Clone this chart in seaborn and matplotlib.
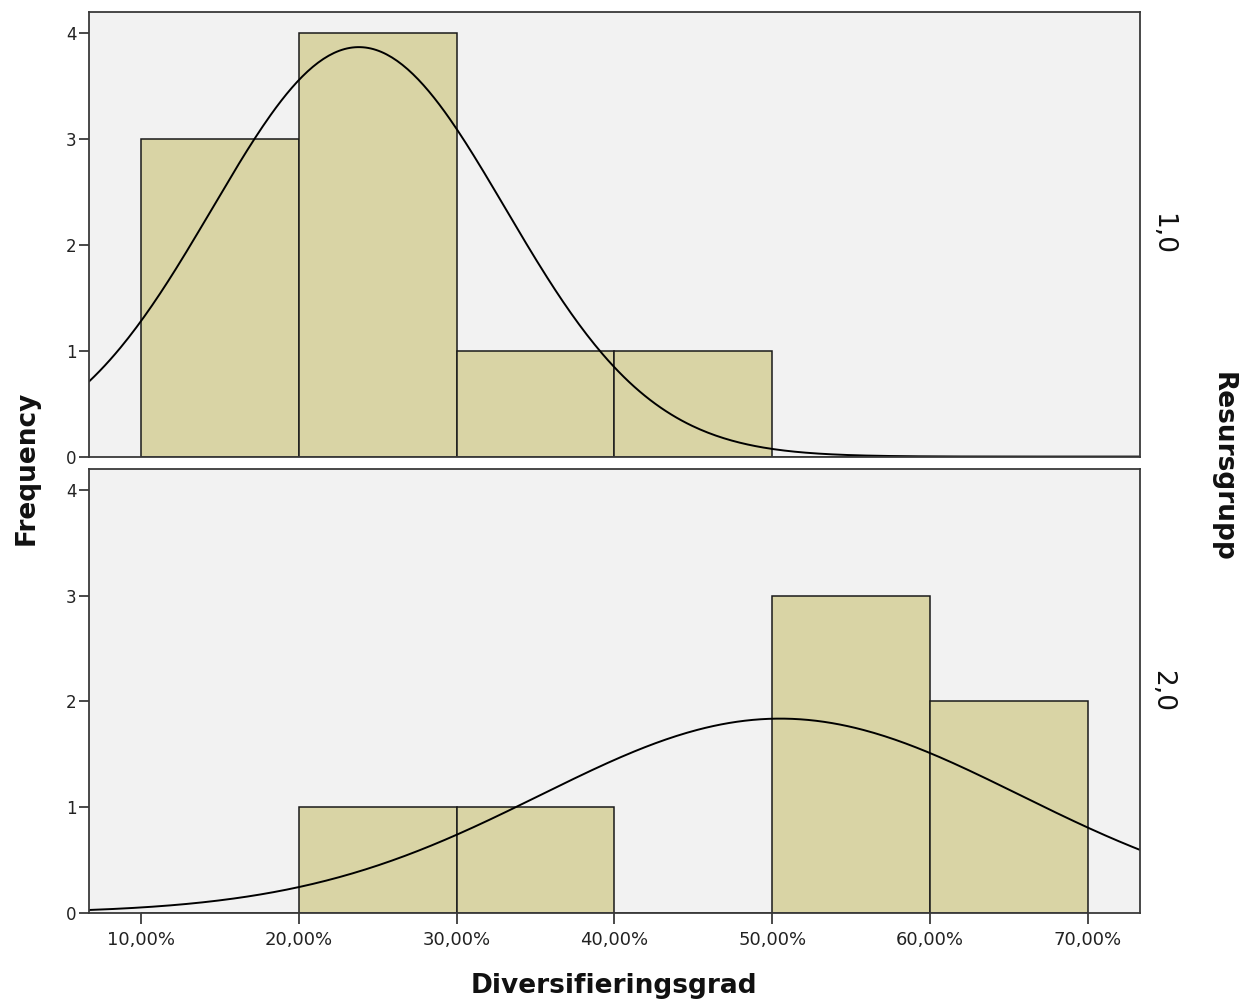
import numpy as np
import pandas as pd
import matplotlib
matplotlib.use("Agg")
import matplotlib.pyplot as plt
from matplotlib.ticker import FuncFormatter
import seaborn as sns

# Histogram bins (percent) and counts per resource group
bin_edges = [10, 20, 30, 40, 50, 60, 70]
group_labels = ["1,0", "2,0"]
counts_g1 = [3, 4, 1, 1, 0, 0]
counts_g2 = [0, 1, 1, 0, 3, 2]
# Normal curve parameters per group (mean, std dev, n)
mean_g = [23.8, 50.5]
sd_g = [9.28, 15.2]
n_g = [9, 7]

x_min, x_max = 6.7, 73.3
bar_color = "#D9D4A5"
bg_color = "#F2F2F2"
frame_color = "#3a3a3a"

sns.set_theme(style="white")
plt.rcParams["font.family"] = ["DejaVu Sans"]

fig, axes = plt.subplots(2, 1, figsize=(12.51, 10.08), dpi=100, sharex=True)
fig.subplots_adjust(left=0.0711, right=0.9113, top=0.988, bottom=0.0942, hspace=0.027)

mids = [(a + b) / 2 for a, b in zip(bin_edges[:-1], bin_edges[1:])]
binw = bin_edges[1] - bin_edges[0]

for ax, counts, mu, sd, n, lab in zip(axes, [counts_g1, counts_g2], mean_g, sd_g, n_g, group_labels):
    df = pd.DataFrame({"x": mids, "w": counts})
    sns.histplot(data=df, x="x", weights="w", bins=bin_edges, ax=ax,
                 color=bar_color, alpha=1.0, edgecolor="#1a1a1a", linewidth=1.1)
    xs = np.linspace(x_min, x_max, 400)
    ys = n * binw * np.exp(-0.5 * ((xs - mu) / sd) ** 2) / (sd * np.sqrt(2 * np.pi))
    sns.lineplot(x=xs, y=ys, ax=ax, color="black", linewidth=1.4)
    ax.set_facecolor(bg_color)
    ax.set_xlim(x_min, x_max)
    ax.set_ylim(0, 4.2)
    ax.set_yticks([0, 1, 2, 3, 4])
    ax.set_ylabel("")
    ax.set_xlabel("")
    for s in ax.spines.values():
        s.set_visible(True)
        s.set_color(frame_color)
        s.set_linewidth(1.3)
    ax.tick_params(axis="y", which="both", left=True, length=7, width=1.3,
                   color=frame_color, labelsize=12, labelcolor="#222222", pad=2)
    ax.text(1.021, 0.5, lab, transform=ax.transAxes, rotation=-90,
            ha="center", va="center", fontsize=19, color="#111111")

axes[0].tick_params(axis="x", bottom=False)
axes[1].set_xticks([10, 20, 30, 40, 50, 60, 70])
axes[1].xaxis.set_major_formatter(FuncFormatter(lambda v, p: f"{v:.2f}".replace(".", ",") + "%"))
axes[1].tick_params(axis="x", bottom=True, length=8, width=1.3, color=frame_color,
                    labelsize=13, labelcolor="#222222", pad=5)

fig.text(0.491, 0.022, "Diversifieringsgrad", ha="center", va="center",
         fontsize=19, fontweight="bold", color="#111111")
fig.text(0.021, 0.536, "Frequency", ha="center", va="center", rotation=90,
         fontsize=19, fontweight="bold", color="#111111")
fig.text(0.977, 0.537, "Resursgrupp", ha="center", va="center", rotation=-90,
         fontsize=19, fontweight="bold", color="#111111")

fig.savefig("out.png", dpi=100)
